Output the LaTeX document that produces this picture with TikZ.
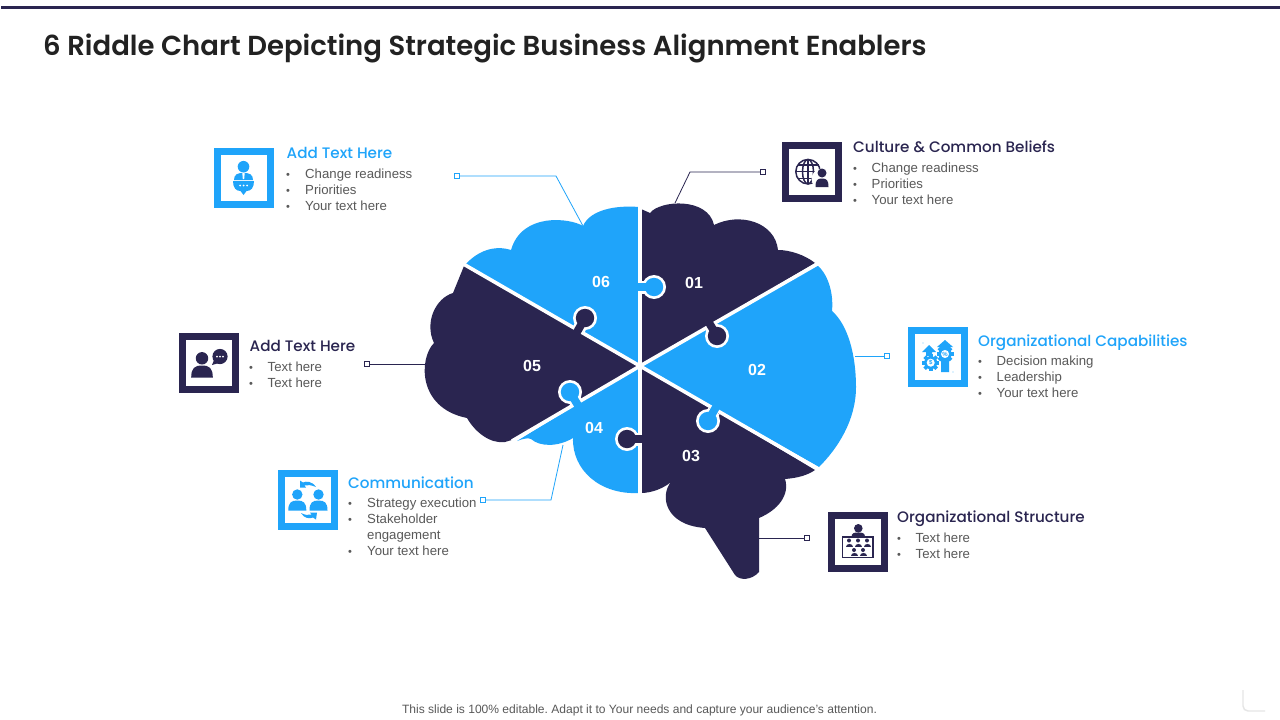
\documentclass[tikz,border=0pt]{standalone}
\usepackage{fontspec}
\setmainfont{Liberation Sans}
\newfontfamily\headfont{Poppins}[UprightFont=* Medium]
\newfontfamily\headbold{Poppins}[UprightFont=* SemiBold]
\definecolor{navy}{HTML}{2A2550}
\definecolor{sky}{HTML}{1FA4FA}
\definecolor{bodytxt}{HTML}{595959}
\definecolor{titletxt}{HTML}{222222}
\tikzset{
  spoke/.style={white,line width=3.6pt},
  framebox/.style={draw=#1,line width=7pt,fill=white,minimum width=53pt,minimum height=53pt,inner sep=0pt,outer sep=0pt},
  headline/.style={anchor=base west,inner sep=0pt,font=\headfont\fontsize{15.2}{15}\selectfont,text=#1},
  bodyline/.style={anchor=north west,inner sep=0pt,align=left,font=\fontsize{13.2}{16}\selectfont,text=bodytxt},
  bullet/.style={anchor=north west,inner sep=0pt,yshift=-3.5pt,font=\fontsize{11}{16}\selectfont,text=bodytxt},
  pin/.style={draw=#1,fill=white,line width=0.9pt,minimum size=5pt,inner sep=0pt,outer sep=0pt},
  wire/.style={draw=#1,line width=0.8pt},
  numlabel/.style={text=white,font=\bfseries\fontsize{16}{16}\selectfont,inner sep=0pt},
}
\newcommand{\tabshape}[5]{% cx,cy nx,ny ox,oy radius color (o: point inside the owner)
  \fill[white] (#1) circle (#4+2.8);
  \draw[white,line width=13pt] (#1) -- (#2);
  \fill[#5] (#1) circle (#4);
  \draw[#5,line width=8pt] (#1) -- (#3);
}
\newcommand{\person}[4]{% x y scale colour
  \begin{scope}[shift={(#1,#2)},scale=#3]
    \fill[#4] (0,-6) circle (5.2);
    \fill[#4] (-9,10) .. controls (-9,2) and (-6,0) .. (0,0) .. controls (6,0) and (9,2) .. (9,10) -- cycle;
  \end{scope}
}
\newcommand{\gear}[4]{% x y r colour
  \begin{scope}[shift={(#1,#2)}]
    \foreach \a in {0,45,...,315}{\fill[#4,rotate=\a] (-1.8,-#3-2) rectangle (1.8,0);}
    \fill[#4] (0,0) circle (#3);
    \fill[white] (0,0) circle (#3*0.62);
  \end{scope}
}
\begin{document}
\begin{tikzpicture}[x=1pt,y=-1pt]
\frenchspacing
\useasboundingbox (0,0) rectangle (1280,720);
\fill[white] (0,0) rectangle (1280,720);
\fill[navy] (1,6) rectangle (1280,9);
\node[anchor=base west,inner sep=0pt,text=titletxt,font=\headbold\fontsize{27.5}{28}\selectfont] (title) at (43,55) {6 Riddle Chart Depicting Strategic Business Alignment Enablers};
\node[inner sep=0pt,text=bodytxt,font=\fontsize{12.05}{14}\selectfont] (foot) at (639.5,710) {This slide is 100\% editable. Adapt it to Your needs and capture your audience’s attention.};
% corner mark
\draw[black!10,line width=1.4pt,rounded corners=5pt] (1243,690) -- (1243,711) -- (1265,711);

% ---- connectors
\coordinate (c6) at (583,226); \coordinate (c1) at (675,203); \coordinate (c2) at (855,356);
\coordinate (c3) at (759,538); \coordinate (c4) at (563,445); \coordinate (c5) at (425,364);
\node[pin=sky] (p6) at (457,176) {};
\node[pin=navy] (p1) at (763,172) {};
\node[pin=sky] (p2) at (887,356) {};
\node[pin=navy] (p3) at (807,538) {};
\node[pin=sky] (p4) at (483,500) {};
\node[pin=navy] (p5) at (367,364) {};
\draw[wire=sky] (p6) -- (556,176) -- (c6);
\draw[wire=navy] (p1) -- (690,172) -- (c1);
\draw[wire=sky] (p2) -- (c2);
\draw[wire=navy] (p3) -- (c3);
\draw[wire=sky] (p4) -- (551,500) -- (c4);
\draw[wire=navy] (p5) -- (c5);

% ---- brain pieces
% 06
\fill[sky] (639,366) -- (639,207)
  .. controls (615,205) and (590,210) .. (583,226)
  .. controls (570,218) and (522,212) .. (511,250)
  .. controls (495,245) and (478,250) .. (464,266) -- cycle;
% 05
\fill[navy] (639,366) -- (464,266) -- (453,293)
  .. controls (436,298) and (424,322) .. (434,343)
  .. controls (419,358) and (417,408) .. (467,418)
  .. controls (475,432) and (490,444) .. (505,442)
  -- (515,439) -- cycle;
% 04
\fill[sky] (639,366) -- (517,441)
  .. controls (525,438) and (528,438) .. (531,439)
  .. controls (540,447) and (558,447) .. (573,438)
  .. controls (572,470) and (600,495) .. (639,493) -- cycle;
% 01
\fill[navy] (641,366) -- (641,209) -- (650,213)
  .. controls (660,200) and (708,197) .. (714,225)
  .. controls (740,212) and (775,222) .. (778,250)
  .. controls (790,250) and (805,255) .. (815,263) -- cycle;
% 02
\fill[sky] (641,366) -- (817,265)
  .. controls (826,272) and (834,290) .. (832,311)
  .. controls (848,325) and (856,355) .. (856,387)
  .. controls (856,420) and (838,448) .. (819,467) -- cycle;
% 03
\fill[navy] (641,366) -- (641,493)
  .. controls (652,493) and (664,488) .. (671,482)
  .. controls (660,495) and (664,525) .. (705,528)
  -- (735,575) .. controls (740,581) and (752,580) .. (759,572)
  -- (759,518)
  .. controls (778,510) and (790,495) .. (785,479)
  .. controls (798,478) and (808,475) .. (815,470) -- cycle;
% spokes
\draw[spoke] (640,205) -- (640,495);
\draw[spoke] (640,366) -- (462.5,263.5);
\draw[spoke] (640,366) -- (819,263);
\draw[spoke] (640,366) -- (820,470);
\draw[spoke] (640,366) -- (512,441);
% tabs
\tabshape{654,287}{642,287}{635,287}{9.2}{sky}
\tabshape{717,336}{711,326}{705,316}{9.2}{navy}
\tabshape{708,421}{714,411}{719,402}{9.2}{sky}
\tabshape{627,439}{638,439}{645,439}{9.2}{navy}
\tabshape{570,392}{576,402}{582,412}{9.2}{sky}
\tabshape{585,318}{579,329}{573,339}{9.2}{navy}
% numbers
\node[numlabel] (n1) at (694,282.5) {01};
\node[numlabel] (n2) at (757,369.5) {02};
\node[numlabel] (n3) at (691,455.5) {03};
\node[numlabel] (n4) at (594,427.5) {04};
\node[numlabel] (n5) at (532,365.5) {05};
\node[numlabel] (n6) at (601,281.5) {06};

% ---- icon boxes
\node[framebox=sky] (i6) at (243.5,178) {};
\node[framebox=navy] (i5) at (209,363) {};
\node[framebox=navy] (i1) at (812,172) {};
\node[framebox=sky] (i2) at (938,357) {};
\node[framebox=sky] (i4) at (308,500) {};
\node[framebox=navy] (i3) at (858,542) {};

% icon: speaker at desk (i6)
\fill[sky] (243.5,166.7) circle (5.8);
\fill[sky] (234,180) .. controls (234,174) and (238,173) .. (243.5,173) .. controls (249,173) and (253,174) .. (253,180) -- cycle;
\fill[white] (242.3,173) -- (244.7,173) -- (244.2,179) -- (242.8,179) -- cycle;
\fill[sky] (233,181) -- (254,181) .. controls (254,188) and (251,191) .. (246.5,191) -- (243.5,195) -- (240.5,191) .. controls (236,191) and (233,188) .. (233,181) -- cycle;
\foreach \d in {-3.5,0,3.5}{\fill[white] (243.5+\d,185.5) circle (1);}

% icon: person + chat (i5)
\person{202}{365.5}{1.2}{navy}
\fill[navy] (220,356.5) circle (7.6);
\fill[navy] (214,360) -- (212,365) -- (219,363) -- cycle;
\foreach \d in {-3,0,3}{\fill[white] (220+\d,356.5) circle (1);}

% icon: globe + person (i1)
\begin{scope}[navy,line width=1.5pt]
  \draw (808,171.7) circle (12.2);
  \draw (808,171.7) ellipse (5.5 and 12.2);
  \draw (808,159.5) -- (808,184);
  \draw (795.8,171.7) -- (820.2,171.7);
  \draw (797.5,165) -- (818.5,165);
  \draw (797.5,178.5) -- (818.5,178.5);
\end{scope}
\fill[white] (822,179) circle (10.5);
\fill[navy] (822,173) circle (4.5);
\fill[navy] (815.5,187) .. controls (815.5,180) and (817.5,178.5) .. (822,178.5) .. controls (826.5,178.5) and (828.5,180) .. (828.5,187) -- cycle;

% icon: gears + arrows (i2)
\fill[sky] (926,356) -- (926,352) -- (922,352) -- (929,345) -- (936,352) -- (932,352) -- (932,356) -- cycle;
\fill[sky] (941,372) -- (941,347) -- (937,347) -- (945,340) -- (953,347) -- (949,347) -- (949,372) -- cycle;
\gear{930.7}{362.7}{6.5}{sky}
\gear{945}{354}{6.5}{sky}
\node[text=sky,inner sep=0pt,font=\bfseries\fontsize{6}{6}\selectfont] (gd) at (930.7,362.7) {\$};
\node[text=sky,inner sep=0pt,font=\bfseries\fontsize{6}{6}\selectfont] (gp) at (945,354) {\%};
\fill[sky!60] (923,343) circle (0.7) (953,372) circle (0.7);

% icon: two people + cycle arrows (i4)
\person{297.3}{500.5}{1.0}{sky}
\person{318.5}{500.5}{1.0}{sky}
\fill[sky] (316,487) .. controls (312,481) and (306,481) .. (303,482.5) -- (300,480.5) -- (300,487.5) -- (306,487.5) -- (304.5,485.5) .. controls (308,484.5) and (311,485) .. (316,487) -- cycle;
\fill[sky] (301,513) .. controls (304,518.5) and (310,519) .. (313,517.5) -- (316,519.5) -- (317,512.5) -- (310,512.5) -- (311.5,514.5) .. controls (308,515.5) and (305,515) .. (301,513) -- cycle;

% icon: org board (i3)
\fill[navy] (858.3,528.3) circle (4.3);
\fill[navy] (851.5,537) .. controls (851.5,533) and (854,532.5) .. (858.3,532.5) .. controls (862.5,532.5) and (865,533) .. (865,537) -- cycle;
\draw[navy,line width=1.5pt] (842.7,537.2) -- (873,537.2) -- (873,557.7) -- (842.7,557.7) -- cycle;
\foreach \px/\py in {849/540.5,858/540.5,867/540.5,854/550,863/550}{
  \fill[navy] (\px,\py) circle (2);
  \fill[navy] (\px-3.5,\py+6) .. controls (\px-3.5,\py+2.3) and (\px+3.5,\py+2.3) .. (\px+3.5,\py+6) -- cycle;
}

% ---- texts
\node[headline=sky] (h6) at (286.5,158.3) {Add Text Here};
\node[bullet] (b61) at (286,169.5) {•};
\node[bodyline] (t6) at (305,168.5) {Change readiness\\Priorities\\Your text here};
\node[bullet] (b62) at (286,185.5) {•};
\node[bullet] (b63) at (286,201.5) {•};

\node[headline=navy] (h5) at (249.5,351.3) {Add Text Here};
\node[bullet] (b51) at (249,362.5) {•};
\node[bodyline] (t5) at (267.5,361.5) {Text here\\Text here};
\node[bullet] (b52) at (249,378.5) {•};

\node[headline=navy] (h1) at (853,152.3) {Culture \& Common Beliefs};
\node[bullet] (b11) at (853,163.5) {•};
\node[bodyline] (t1) at (871.5,162.5) {Change readiness\\Priorities\\Your text here};
\node[bullet] (b12) at (853,179.5) {•};
\node[bullet] (b13) at (853,195.5) {•};

\node[headline=sky] (h2) at (978,346.5) {Organizational Capabilities};
\node[bullet] (b21) at (978,356.5) {•};
\node[bodyline] (t2) at (996.5,355.5) {Decision making\\Leadership\\Your text here};
\node[bullet] (b22) at (978,372.5) {•};
\node[bullet] (b23) at (978,388.5) {•};

\node[headline=sky] (h4) at (348,488.5) {Communication};
\node[bullet] (b41) at (348,498.5) {•};
\node[bodyline] (t4) at (367,497.5) {Strategy execution\\Stakeholder\\engagement\\Your text here};
\node[bullet] (b42) at (348,514.5) {•};
\node[bullet] (b43) at (348,546.5) {•};

\node[headline=navy] (h3) at (897,522.5) {Organizational Structure};
\node[bullet] (b31) at (897,533.5) {•};
\node[bodyline] (t3) at (915.5,532.5) {Text here\\Text here};
\node[bullet] (b32) at (897,549.5) {•};
\end{tikzpicture}
\end{document}
